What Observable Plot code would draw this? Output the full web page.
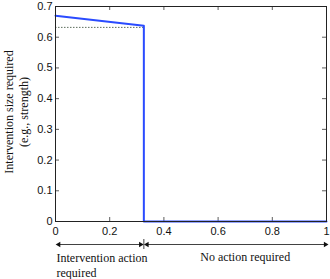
<!DOCTYPE html>
<html>
<head>
<meta charset="utf-8">
<script src="https://cdn.jsdelivr.net/npm/d3@7"></script>
<script src="https://cdn.jsdelivr.net/npm/@observablehq/plot@0.6"></script>
<style>
  html, body { margin: 0; padding: 0; background: #fff; }
  .serif text, .serif tspan, text.serif { font-family: "Liberation Serif", "Times New Roman", Times, "DejaVu Serif", serif !important; }
</style>
</head>
<body>
<div id="chart"></div>
<script>
// ---- data ----
const curveX = [0, 0.326, 0.326, 1];
const curveY = [0.670, 0.637, 0, 0];
const threshold = 0.326;
const referenceLevel = 0.632;
const xTicks = [0, 0.2, 0.4, 0.6, 0.8, 1];
const yTicks = [0, 0.1, 0.2, 0.3, 0.4, 0.5, 0.6, 0.7];
const xTickLabels = ["0", "0.2", "0.4", "0.6", "0.8", "1"];
const yTickLabels = ["0", "0.1", "0.2", "0.3", "0.4", "0.5", "0.6", "0.7"];
const yLabel = "Intervention size required\n(e.g., strength)";
const regionLabels = ["Intervention action\nrequired", "No action required"];
const regionSpans = [[0.012, threshold - 0.012], [threshold + 0.012, 0.996]];
const regionLabelX = [0, 0.70];

// ---- layout ----
const W = 330, H = 279;
const mL = 55, mR = 4, mT = 6, mB = 58;
const fw = W - mL - mR, fh = H - mT - mB;
const tick = 4;
const sans = "Liberation Sans, Arial, Helvetica, sans-serif";
const serif = "Liberation Serif, Times New Roman, Times, serif";
const blue = "#2a4bff";

const curve = curveX.map((x, i) => ({x, y: curveY[i]}));
const heads = regionSpans.flatMap(([a, b]) => [{x: a, r: -90}, {x: b, r: 90}]);
const spans = regionSpans.map(([a, b]) => ({a, b}));

const plot = Plot.plot({
  width: W, height: H,
  marginLeft: mL, marginRight: mR, marginTop: mT, marginBottom: mB,
  style: {fontFamily: sans, background: "#fff", overflow: "visible"},
  x: {domain: [0, 1], ticks: xTicks},
  y: {domain: [0, 0.7], ticks: yTicks},
  marks: [
    // inner ticks
    Plot.ruleX(xTicks, {x: d => d, insetTop: fh - tick, stroke: "#333", strokeWidth: 0.8}),
    Plot.ruleX(xTicks, {x: d => d, insetBottom: fh - tick, stroke: "#333", strokeWidth: 0.8}),
    Plot.ruleY(yTicks, {y: d => d, insetRight: fw - tick, stroke: "#333", strokeWidth: 0.8}),
    Plot.ruleY(yTicks, {y: d => d, insetLeft: fw - tick, stroke: "#333", strokeWidth: 0.8}),
    Plot.axisX(xTicks, {tickSize: 0, tickPadding: 6, fontSize: 11, fill: "#111",
      tickFormat: (d, i) => xTickLabels[i], label: null}),
    Plot.axisY(yTicks, {tickSize: 0, tickPadding: 3, fontSize: 11, fill: "#111",
      tickFormat: (d, i) => yTickLabels[i], label: null}),
    // dotted reference level
    Plot.ruleY([referenceLevel], {x1: 0, x2: threshold, stroke: "#5d6e5d", strokeWidth: 1, strokeDasharray: "1.5,1.5"}),
    // curve
    Plot.line(curve, {x: "x", y: "y", stroke: blue, strokeWidth: 2}),
    Plot.frame({stroke: "#222", strokeWidth: 1}),
    // y label
    Plot.text([yLabel], {frameAnchor: "left", textAnchor: "middle", rotate: -90, dx: -40, dy: -2,
      fontFamily: serif, className: "serif", fontSize: 12, lineHeight: 1.25, fill: "#111"}),
    // region arrows
    Plot.ruleY(spans, {y: () => 0, x1: "a", x2: "b", dy: 23, stroke: "#111", strokeWidth: 0.8}),
    Plot.dot(heads, {x: "x", y: () => 0, dy: 23, symbol: "triangle", r: 2, rotate: "r", fill: "#111", stroke: null}),
    Plot.ruleX([threshold], {x: d => d, y1: () => 0, y2: () => 0, insetTop: -5, insetBottom: -5, dy: 23, stroke: "#111", strokeWidth: 0.8}),
    Plot.text([regionLabels[0]], {x: () => regionLabelX[0], y: () => 0, dy: 43.5, dx: 1, textAnchor: "start",
      fontFamily: serif, className: "serif", fontSize: 12, lineHeight: 1.25, fill: "#111"}),
    Plot.text([regionLabels[1]], {x: () => regionLabelX[1], y: () => 0, dy: 36, textAnchor: "middle",
      fontFamily: serif, className: "serif", fontSize: 12, fill: "#111"})
  ]
});
document.getElementById("chart").appendChild(plot);
</script>
</body>
</html>
